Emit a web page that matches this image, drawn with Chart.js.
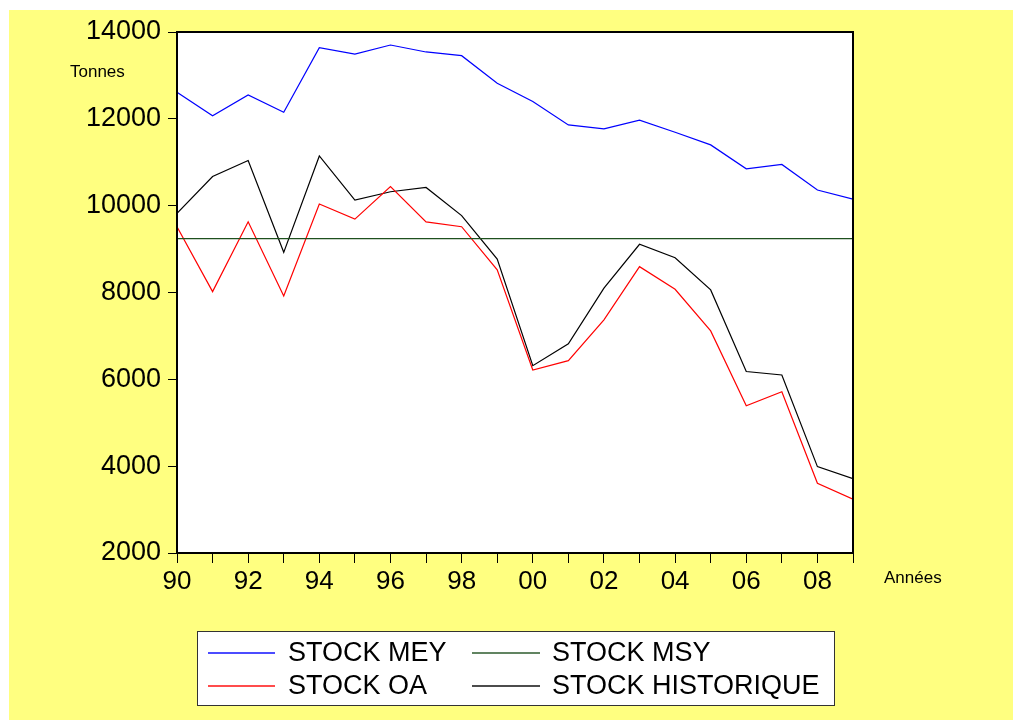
<!DOCTYPE html>
<html>
<head>
<meta charset="utf-8">
<title>Stock</title>
<script src="https://cdn.jsdelivr.net/npm/chart.js@4.4.0/dist/chart.umd.min.js"></script>
<style>
  body { margin: 0; background: #ffffff; }
  canvas { display: block; }
</style>
</head>
<body>
<canvas id="stockChart" width="1013" height="720"></canvas>
<script>
// données
var annees = [1990, 1991, 1992, 1993, 1994, 1995, 1996, 1997, 1998, 1999,
              2000, 2001, 2002, 2003, 2004, 2005, 2006, 2007, 2008, 2009];
var stockMEY = [12610, 12070, 12550, 12150, 13640, 13490, 13700, 13540, 13455, 12820,
                12400, 11860, 11770, 11970, 11690, 11400, 10850, 10950, 10360, 10150];
var stockMSY = [9240, 9240, 9240, 9240, 9240, 9240, 9240, 9240, 9240, 9240,
                9240, 9240, 9240, 9240, 9240, 9240, 9240, 9240, 9240, 9240];
var stockOA = [9515, 8020, 9630, 7920, 10040, 9690, 10440, 9625, 9515, 8520,
               6215, 6430, 7370, 8595, 8075, 7115, 5390, 5715, 3605, 3240];
var stockHist = [9825, 10670, 11040, 8925, 11145, 10130, 10320, 10420, 9770, 8770,
                 6315, 6820, 8100, 9110, 8800, 8060, 6180, 6100, 3990, 3710];
var yTicks = [2000, 4000, 6000, 8000, 10000, 12000, 14000];

var police = "'Liberation Sans', Arial, sans-serif";

function points(vals) {
    return annees.map(function (a, i) { return { x: a, y: vals[i] }; });
}

// fond jaune, cadre, titres d'axes et légende
var decor = {
    id: 'decor',
    beforeDraw: function (chart) {
        var ctx = chart.ctx, a = chart.chartArea;
        ctx.save();
        ctx.fillStyle = '#ffffff';
        ctx.fillRect(0, 0, chart.width, chart.height);
        ctx.fillStyle = '#ffff80';
        ctx.fillRect(9, 10, chart.width - 9, chart.height - 10);
        ctx.fillStyle = '#ffffff';
        ctx.fillRect(a.left, a.top, a.right - a.left, a.bottom - a.top);
        ctx.restore();
    },
    afterDraw: function (chart) {
        var ctx = chart.ctx, a = chart.chartArea;
        ctx.save();
        ctx.strokeStyle = '#000000';
        ctx.lineWidth = 2;
        ctx.strokeRect(a.left, a.top, a.right - a.left, a.bottom - a.top);

        ctx.fillStyle = '#000000';
        ctx.font = '17px ' + police;
        ctx.textBaseline = 'middle';
        ctx.textAlign = 'left';
        ctx.fillText('Tonnes', 70, 72);
        ctx.fillText('Années', 884, 578);

        // légende
        ctx.lineWidth = 1;
        ctx.strokeStyle = '#333333';
        ctx.fillStyle = '#ffffff';
        ctx.fillRect(197, 631, 637, 74);
        ctx.strokeRect(197.5, 631.5, 637, 74);
        var cols = [[208, 275, 288], [472, 540, 552]];
        var rows = [653, 686];
        ctx.font = '27px ' + police;
        chart.data.datasets.forEach(function (ds, i) {
            var c = cols[i % 2], r = rows[Math.floor(i / 2)];
            ctx.save();
            ctx.globalAlpha = 0.7;
            ctx.lineWidth = 2;
            ctx.strokeStyle = ds.borderColor;
            ctx.beginPath();
            ctx.moveTo(c[0], r);
            ctx.lineTo(c[1], r);
            ctx.stroke();
            ctx.restore();
            ctx.fillStyle = '#000000';
            ctx.fillText(ds.label, c[2], r + 1);
        });
        ctx.restore();
    }
};

var stockChart = new Chart(document.getElementById('stockChart'), {
    type: 'line',
    data: {
        datasets: [
            { label: 'STOCK MEY', data: points(stockMEY), borderColor: '#0000ff', borderWidth: 1.2 },
            { label: 'STOCK MSY', data: points(stockMSY), borderColor: '#1e501e', borderWidth: 1.2 },
            { label: 'STOCK OA', data: points(stockOA), borderColor: '#ff0000', borderWidth: 1.2 },
            { label: 'STOCK HISTORIQUE', data: points(stockHist), borderColor: '#000000', borderWidth: 1.2 }
        ]
    },
    options: {
        responsive: false,
        animation: false,
        events: [],
        elements: { point: { radius: 0 }, line: { tension: 0 } },
        layout: { padding: { left: 20, top: 32, right: 160, bottom: 0 } },
        plugins: { legend: { display: false }, tooltip: { enabled: false } },
        scales: {
            x: {
                type: 'linear',
                min: 1990,
                max: 2009,
                afterFit: function (s) { s.height = 167; },
                afterBuildTicks: function (s) {
                    s.ticks = annees.map(function (a) { return { value: a }; });
                },
                border: { display: false },
                grid: { drawOnChartArea: false, drawTicks: true, tickLength: 10, color: '#000000', lineWidth: 1 },
                ticks: {
                    autoSkip: false,
                    maxRotation: 0,
                    padding: 3,
                    color: '#000000',
                    font: { family: police, size: 26 },
                    callback: function (v) { return v % 2 === 0 ? String(v).slice(2) : ''; }
                }
            },
            y: {
                min: 2000,
                max: 14000,
                afterFit: function (s) { s.width = 157; },
                afterBuildTicks: function (s) {
                    s.ticks = yTicks.map(function (v) { return { value: v }; });
                },
                border: { display: false },
                grid: { drawOnChartArea: false, drawTicks: true, tickLength: 9, color: '#000000', lineWidth: 1 },
                ticks: {
                    padding: 7,
                    color: '#000000',
                    font: { family: police, size: 27 },
                    callback: function (v) { return String(v); }
                }
            }
        }
    },
    plugins: [decor]
});
</script>
</body>
</html>
